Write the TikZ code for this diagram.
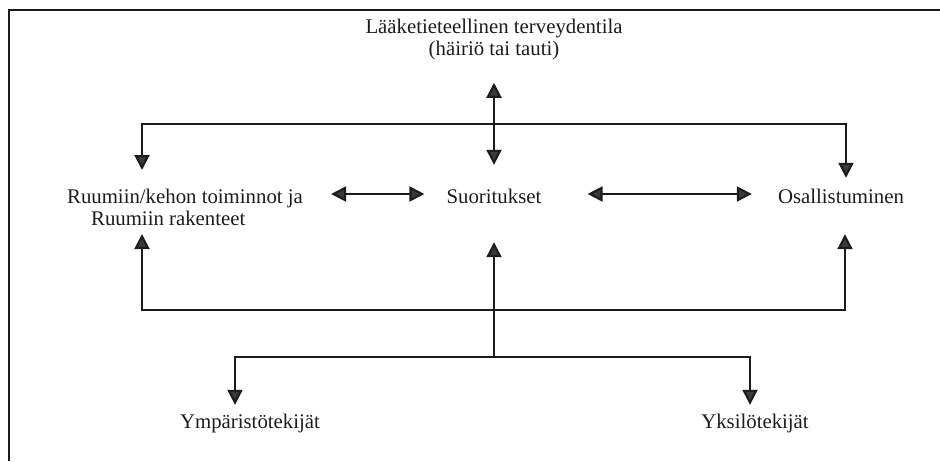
\documentclass[tikz,border=0pt]{standalone}
\usepackage{fontspec}
\setmainfont{Liberation Serif}
\usetikzlibrary{arrows.meta}
\definecolor{ink}{HTML}{1C1C1C}
\definecolor{tipgray}{HTML}{3A3A3A}
\tikzset{
  lbl/.style={inner sep=0pt, text=ink, font=\fontsize{20.8}{22.5}\selectfont},
  one/.style={lbl, text height=14pt, text depth=4pt, anchor=base},
  tip/.style={-{Triangle[length=15pt,width=15pt,fill=tipgray]}, draw=ink, line width=2.1pt},
  dbl/.style={{Triangle[length=15pt,width=15pt,fill=tipgray]}-{Triangle[length=15pt,width=15pt,fill=tipgray]}, draw=ink, line width=2.1pt}
}
\begin{document}
\begin{tikzpicture}[x=1pt,y=-1pt]
        \useasboundingbox (0,0) rectangle (940,461);
        \draw[ink, line width=1.5pt] (9,461) -- (9,10) -- (940,10);
        \node[lbl, align=center, anchor=north] (med) at (494,18.5) {Lääketieteellinen terveydentila\\(häiriö tai tauti)};
        \node[lbl, align=left, anchor=north] (ruumis) at (185,188.5) {Ruumiin/kehon toiminnot ja\\\hspace*{24pt}Ruumiin rakenteet};
        \node[one] (suor) at (494,203) {Suoritukset};
        \node[one] (osal) at (841,203) {Osallistuminen};
        \node[one] (ymp) at (250,428) {Ympäristötekijät};
        \node[one] (yks) at (755,428) {Yksilötekijät};
        \coordinate (tl) at (142,124);
        \coordinate (tr) at (846,124);
        \coordinate (ml) at (142,310);
        \coordinate (mr) at (845,310);
        \coordinate (lc) at (494,357);
        \coordinate (ll) at (235,357);
        \coordinate (lr) at (750,357);
        \coordinate (row) at (0,194);
        \draw[dbl, shorten <=22.5pt, shorten >=24pt] (med.south) -- (suor.north);
        \draw[tip, shorten >=18.5pt] (tr) -| (tl |- ruumis.north);
        \draw[tip, shorten >=11pt] (tl) -| (tr |- osal.north);
        \draw[dbl, shorten <=28pt, shorten >=22pt] (ruumis.east |- row) -- (suor.west |- row);
        \draw[dbl, shorten <=46pt, shorten >=26pt] (suor.east |- row) -- (osal.west |- row);
        \draw[tip, shorten >=8pt] (mr) -| (ml |- ruumis.south);
        \draw[tip, shorten >=27pt] (ml) -| (mr |- osal.south);
        \draw[tip, shorten >=35pt] (lc) -- (suor.south);
        \draw[tip, shorten >=9pt] (lr) -| (ll |- ymp.north);
        \draw[tip, shorten >=9pt] (ll) -| (lr |- yks.north);
      \end{tikzpicture}
\end{document}
